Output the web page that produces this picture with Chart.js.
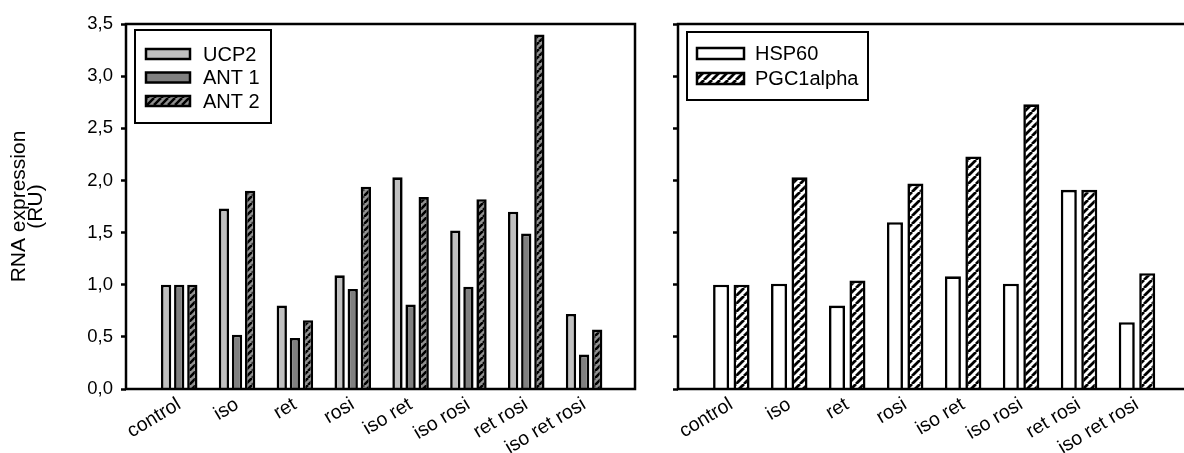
<!DOCTYPE html>
<html>
<head>
<meta charset="utf-8">
<script src="https://cdn.jsdelivr.net/npm/chart.js@4"></script>
<style>
  html, body { margin: 0; padding: 0; background: #fff; overflow: hidden; }
  body { width: 1184px; height: 453px; position: relative; }
  canvas { position: absolute; top: 0; }
  #leftChart { left: 0; }
  #rightChart { left: 640px; }
</style>
</head>
<body>
<canvas id="leftChart" width="650" height="453"></canvas>
<canvas id="rightChart" width="560" height="453"></canvas>
<script>
const categories = ["control", "iso", "ret", "rosi", "iso ret", "iso rosi", "ret rosi", "iso ret rosi"];

// left panel
const ucp2 = [1.00, 1.73, 0.80, 1.09, 2.03, 1.52, 1.70, 0.72];
const ant1 = [1.00, 0.52, 0.49, 0.96, 0.81, 0.98, 1.49, 0.33];
const ant2 = [1.00, 1.90, 0.66, 1.94, 1.84, 1.82, 3.40, 0.57];

// right panel
const hsp60 = [1.00, 1.01, 0.80, 1.60, 1.08, 1.01, 1.91, 0.64];
const pgc1alpha = [1.00, 2.03, 1.04, 1.97, 2.23, 2.73, 1.91, 1.11];

const yTickLabels = ["0,0", "0,5", "1,0", "1,5", "2,0", "2,5", "3,0", "3,5"];

const FONT = "'Liberation Sans', Arial, sans-serif";

// diagonal "////" fill
function hatch(bg, line, size, width) {
    const c = document.createElement("canvas");
    c.width = size;
    c.height = size;
    const g = c.getContext("2d");
    g.fillStyle = bg;
    g.fillRect(0, 0, size, size);
    g.strokeStyle = line;
    g.lineWidth = width;
    g.beginPath();
    for (let k = -1; k <= 1; k++) {
        g.moveTo(k * size, size);
        g.lineTo(k * size + size, 0);
    }
    g.stroke();
    return g.createPattern(c, "repeat");
}

const points = (values) => values.map((y, i) => ({ x: i, y: y }));

const framePlugin = {
    id: "frame",
    afterDraw(chart) {
        const { ctx, chartArea: a } = chart;
        ctx.save();
        ctx.strokeStyle = "#000";
        ctx.lineWidth = 2.5;
        ctx.strokeRect(a.left, a.top, a.right - a.left, a.bottom - a.top);
        ctx.restore();
    },
};

// boxed legend in the upper left corner of the plot
const boxLegend = {
    id: "boxLegend",
    afterDraw(chart, args, o) {
        const { ctx, chartArea: a } = chart;
        const x0 = a.left + o.x;
        const y0 = a.top + o.y;
        ctx.save();
        ctx.fillStyle = "#fff";
        ctx.fillRect(x0, y0, o.width, o.height);
        ctx.strokeStyle = "#000";
        ctx.lineWidth = 2;
        ctx.strokeRect(x0, y0, o.width, o.height);
        ctx.font = o.fontSize + "px " + FONT;
        ctx.textBaseline = "middle";
        chart.data.datasets.forEach((ds, i) => {
            const cy = y0 + o.firstRow + i * o.rowGap;
            const sx = x0 + o.swatchX;
            const sy = cy - o.swatchH / 2;
            ctx.fillStyle = ds.backgroundColor;
            ctx.fillRect(sx, sy, o.swatchW, o.swatchH);
            ctx.lineWidth = 2.5;
            ctx.strokeRect(sx, sy, o.swatchW, o.swatchH);
            ctx.fillStyle = "#000";
            ctx.fillText(ds.label, x0 + o.textX, cy + 1);
        });
        ctx.restore();
    },
};

function panelOptions(p) {
    return {
        responsive: false,
        animation: false,
        layout: { padding: { top: 24, right: p.padRight, left: 0, bottom: 0 } },
        datasets: {
            bar: {
                categoryPercentage: p.catPct,
                barPercentage: p.barPct,
                borderWidth: 2.6,
                borderColor: "#000",
            },
        },
        plugins: {
            legend: { display: false },
            tooltip: { enabled: false },
            boxLegend: p.legend,
        },
        scales: {
            x: {
                type: "linear",
                min: -0.92,
                max: 7.88,
                offset: false,
                afterBuildTicks: (scale) => {
                    scale.ticks = categories.map((_, i) => ({ value: i }));
                },
                ticks: {
                    autoSkip: false,
                    minRotation: 31,
                    maxRotation: 31,
                    padding: 4,
                    color: "#000",
                    font: { family: FONT, size: 19.5 },
                    callback: (v) => categories[v],
                },
                grid: { display: false, drawTicks: false },
                border: { display: false },
                afterFit: (scale) => { scale.height = 64; },
            },
            y: {
                min: 0,
                max: 3.5,
                afterBuildTicks: (scale) => {
                    scale.ticks = yTickLabels.map((_, i) => ({ value: i * 0.5 }));
                },
                ticks: {
                    display: p.showLabels,
                    padding: 8,
                    color: "#000",
                    font: { family: FONT, size: 18.5 },
                    callback: (v, i) => yTickLabels[i],
                },
                grid: {
                    drawOnChartArea: false,
                    drawTicks: true,
                    tickLength: 5,
                    tickColor: "#000",
                    tickWidth: 2.5,
                },
                border: { display: false },
                title: {
                    display: p.showLabels,
                    text: ["RNA expression", "(RU)"],
                    color: "#000",
                    font: { family: FONT, size: 21, lineHeight: "17px" },
                    padding: { top: 10.5, bottom: 0 },
                },
                afterFit: (scale) => { scale.width = p.axisWidth; },
            },
        },
    };
}

new Chart(document.getElementById("leftChart"), {
    type: "bar",
    data: {
        datasets: [
            { label: "UCP2", data: points(ucp2), backgroundColor: "#c0c0c0" },
            { label: "ANT 1", data: points(ant1), backgroundColor: "#808080" },
            { label: "ANT 2", data: points(ant2), backgroundColor: hatch("#909090", "#000", 7, 2.6) },
        ],
    },
    options: panelOptions({
        showLabels: true,
        axisWidth: 126,
        padRight: 15,
        catPct: 0.68,
        barPct: 0.786,
        legend: { x: 9, y: 6, width: 136, height: 93, firstRow: 24, rowGap: 23.5,
                  swatchX: 11, swatchW: 44, swatchH: 10, textX: 68, fontSize: 20 },
    }),
    plugins: [framePlugin, boxLegend],
});

new Chart(document.getElementById("rightChart"), {
    type: "bar",
    data: {
        datasets: [
            { label: "HSP60", data: points(hsp60), backgroundColor: "#ffffff" },
            { label: "PGC1alpha", data: points(pgc1alpha), backgroundColor: hatch("#ffffff", "#000", 8, 2.8) },
        ],
    },
    options: panelOptions({
        showLabels: false,
        axisWidth: 38,
        padRight: 12,
        catPct: 0.706,
        barPct: 0.784,
        legend: { x: 9, y: 8, width: 181, height: 68, firstRow: 21.5, rowGap: 25,
                  swatchX: 10, swatchW: 47, swatchH: 11, textX: 68, fontSize: 20 },
    }),
    plugins: [framePlugin, boxLegend],
});
</script>
</body>
</html>
